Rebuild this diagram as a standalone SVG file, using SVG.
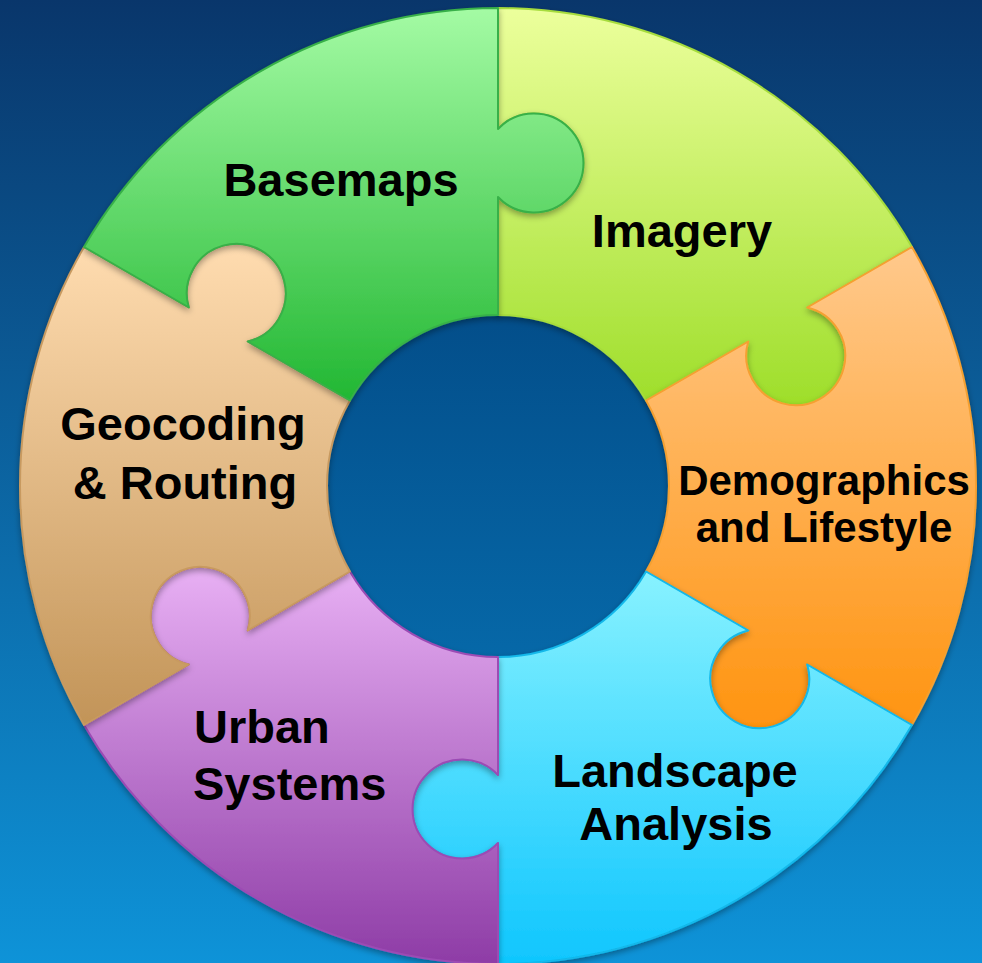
<svg xmlns="http://www.w3.org/2000/svg" width="982" height="963" viewBox="0 0 982 963">
<defs>
<linearGradient id="bg" x1="0" y1="0" x2="0" y2="1"><stop offset="0" stop-color="#09366b"/><stop offset="1" stop-color="#0e93d8"/></linearGradient>
<linearGradient id="hole" x1="0" y1="0" x2="0" y2="1"><stop offset="0" stop-color="#034e8a"/><stop offset="1" stop-color="#0668a8"/></linearGradient>
<linearGradient id="gBase" x1="0" y1="0" x2="0" y2="1"><stop offset="0" stop-color="#a4fba4"/><stop offset="1" stop-color="#22b733"/></linearGradient>
<linearGradient id="gImg" x1="0" y1="0" x2="0" y2="1"><stop offset="0" stop-color="#ecff9c"/><stop offset="1" stop-color="#9ede2a"/></linearGradient>
<linearGradient id="gDem" x1="0" y1="0" x2="0" y2="1"><stop offset="0" stop-color="#ffc98c"/><stop offset="1" stop-color="#ff9410"/></linearGradient>
<linearGradient id="gLand" x1="0" y1="0" x2="0" y2="1"><stop offset="0" stop-color="#88f2ff"/><stop offset="1" stop-color="#0fc6fe"/></linearGradient>
<linearGradient id="gUrb" x1="0" y1="0" x2="0" y2="1"><stop offset="0" stop-color="#e8b0f4"/><stop offset="1" stop-color="#8e3ca6"/></linearGradient>
<linearGradient id="gGeo" x1="0" y1="0" x2="0" y2="1"><stop offset="0" stop-color="#ffdcb0"/><stop offset="1" stop-color="#c29458"/></linearGradient>
<filter id="sh" x="-10%" y="-10%" width="120%" height="130%"><feDropShadow dx="0" dy="3" stdDeviation="3" flood-color="#000" flood-opacity="0.35"/></filter>
</defs>
<style>
.piece{stroke-width:2;stroke-linejoin:round;filter:url(#sh)}
.lbl{font-family:"Liberation Sans",Arial,sans-serif;font-weight:bold;font-size:47px;fill:#000}
.c{text-anchor:middle}
</style>
<rect width="982" height="963" fill="url(#bg)"/>
<circle cx="498" cy="486" r="172" fill="url(#hole)"/>
<g id="connectors"/>
<g id="imagery">
<path class="piece" fill="url(#gImg)" stroke="#a6dc3c" d="M498,315 L498,197 A49.5 49.5 0 1 0 498,129 L498,8 A478 478 0 0 1 911.96,247 L807.17,307.5 A49.5 49.5 0 1 1 748.28,341.5 L646.09,400.5 A171 171 0 0 0 498,315 Z"/>
<text class="lbl c" x="682" y="247">Imagery</text>
</g>
<g id="demographics">
<path class="piece" fill="url(#gDem)" stroke="#f5a030" d="M646.09,400.5 L748.28,341.5 A49.5 49.5 0 1 0 807.17,307.5 L911.96,247 A478 478 0 0 1 911.96,725 L807.17,664.5 A49.5 49.5 0 1 1 748.28,630.5 L646.09,571.5 A171 171 0 0 0 646.09,400.5 Z"/>
<text class="lbl c" x="824" y="495" style="font-size:42px">Demographics</text>
<text class="lbl c" x="824" y="542" style="font-size:42px">and Lifestyle</text>
</g>
<g id="landscape">
<path class="piece" fill="url(#gLand)" stroke="#12b8ea" d="M646.09,571.5 L748.28,630.5 A49.5 49.5 0 1 0 807.17,664.5 L911.96,725 A478 478 0 0 1 498,964 L498,843 A49.5 49.5 0 1 1 498,775 L498,657 A171 171 0 0 0 646.09,571.5 Z"/>
<text class="lbl c" x="675" y="787">Landscape</text>
<text class="lbl c" x="676" y="840">Analysis</text>
</g>
<g id="urban">
<path class="piece" fill="url(#gUrb)" stroke="#9c4cb4" d="M498,657 L498,775 A49.5 49.5 0 1 0 498,843 L498,964 A478 478 0 0 1 84.04,725 L188.83,664.5 A49.5 49.5 0 1 1 247.72,630.5 L349.91,571.5 A171 171 0 0 0 498,657 Z"/>
<text class="lbl" x="194" y="743">Urban</text>
<text class="lbl" x="193" y="800">Systems</text>
</g>
<g id="geocoding">
<path class="piece" fill="url(#gGeo)" stroke="#c89a60" d="M349.91,571.5 L247.72,630.5 A49.5 49.5 0 1 0 188.83,664.5 L84.04,725 A478 478 0 0 1 84.04,247 L188.83,307.5 A49.5 49.5 0 1 1 247.72,341.5 L349.91,400.5 A171 171 0 0 0 349.91,571.5 Z"/>
<text class="lbl c" x="183" y="440">Geocoding</text>
<text class="lbl c" x="185" y="499">&amp; Routing</text>
</g>
<g id="basemaps">
<path class="piece" fill="url(#gBase)" stroke="#38b048" d="M349.91,400.5 L247.72,341.5 A49.5 49.5 0 1 0 188.83,307.5 L84.04,247 A478 478 0 0 1 498,8 L498,129 A49.5 49.5 0 1 1 498,197 L498,315 A171 171 0 0 0 349.91,400.5 Z"/>
<text class="lbl c" x="341" y="196">Basemaps</text>
</g>
</svg>
